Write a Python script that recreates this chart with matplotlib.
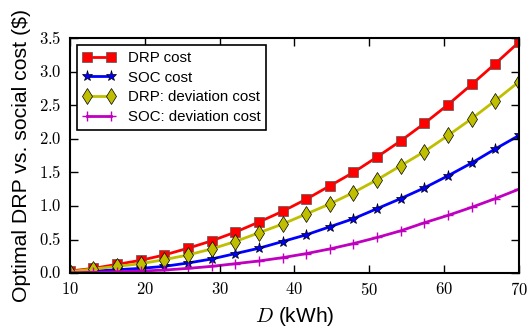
import numpy as np
import matplotlib
matplotlib.use('Agg')
import matplotlib.pyplot as plt
from matplotlib.ticker import FuncFormatter

plt.style.use('classic')
plt.rcParams['mathtext.fontset'] = 'cm'
plt.rcParams['font.family'] = ['Liberation Sans', 'DejaVu Sans']

D = [10.0, 13.16, 16.32, 19.47, 22.63, 25.79, 28.95, 32.11, 35.26, 38.42,
     41.58, 44.74, 47.89, 51.05, 54.21, 57.37, 60.53, 63.68, 66.84, 70.0]

drp_cost = [0.03, 0.07, 0.13, 0.19, 0.27, 0.37, 0.48, 0.61, 0.76, 0.92,
            1.10, 1.30, 1.50, 1.73, 1.97, 2.23, 2.51, 2.81, 3.12, 3.44]
soc_cost = [0.01, 0.03, 0.05, 0.07, 0.10, 0.15, 0.21, 0.29, 0.37, 0.47,
            0.57, 0.69, 0.81, 0.96, 1.11, 1.27, 1.45, 1.64, 1.85, 2.05]
drp_dev = [0.02, 0.06, 0.10, 0.14, 0.20, 0.27, 0.36, 0.47, 0.60, 0.73,
           0.88, 1.03, 1.20, 1.39, 1.60, 1.81, 2.05, 2.30, 2.57, 2.85]
soc_dev = [0.005, 0.01, 0.02, 0.03, 0.045, 0.07, 0.10, 0.14, 0.18, 0.23,
           0.29, 0.36, 0.44, 0.53, 0.63, 0.75, 0.86, 0.98, 1.11, 1.25]

fig = plt.figure(figsize=(5.29, 3.29), dpi=100, facecolor='white')
ax = fig.add_axes([0.132, 0.170, 0.849, 0.714])

ax.plot(D, drp_cost, 'r-', marker='s', ms=7, lw=2, mec='#555555', label='DRP cost')
ax.plot(D, soc_cost, 'b-', marker='*', ms=8, lw=2, mec='black', label='SOC cost')
ax.plot(D, drp_dev, 'y-', marker='d', ms=8, lw=2, mec='black', label='DRP: deviation cost')
ax.plot(D, soc_dev, 'm-', marker='+', ms=7, lw=2, mew=1, label='SOC: deviation cost')

ax.set_xlim(10, 70)
ax.set_ylim(0, 3.5)
ax.set_xticks([10, 20, 30, 40, 50, 60, 70])
ax.set_yticks(np.arange(0, 3.51, 0.5))
ax.xaxis.set_major_formatter(FuncFormatter(lambda v, p: r'$%d$' % v))
ax.yaxis.set_major_formatter(FuncFormatter(lambda v, p: r'$%.1f$' % v))
ax.tick_params(labelsize=12, length=6, width=1, pad=6)
for s in ax.spines.values():
    s.set_linewidth(1.5)

ax.set_xlabel(r'$D$ (kWh)', fontsize=15)
ax.set_ylabel(r'Optimal DRP vs. social cost (\$)', fontsize=15.3, labelpad=6)

leg = ax.legend(loc='upper left', fontsize=10.8, numpoints=2, borderaxespad=0.45,
                handlelength=2.2, labelspacing=0.38)
leg.get_frame().set_linewidth(1.2)

plt.savefig('out.png', dpi=100, facecolor='white')
